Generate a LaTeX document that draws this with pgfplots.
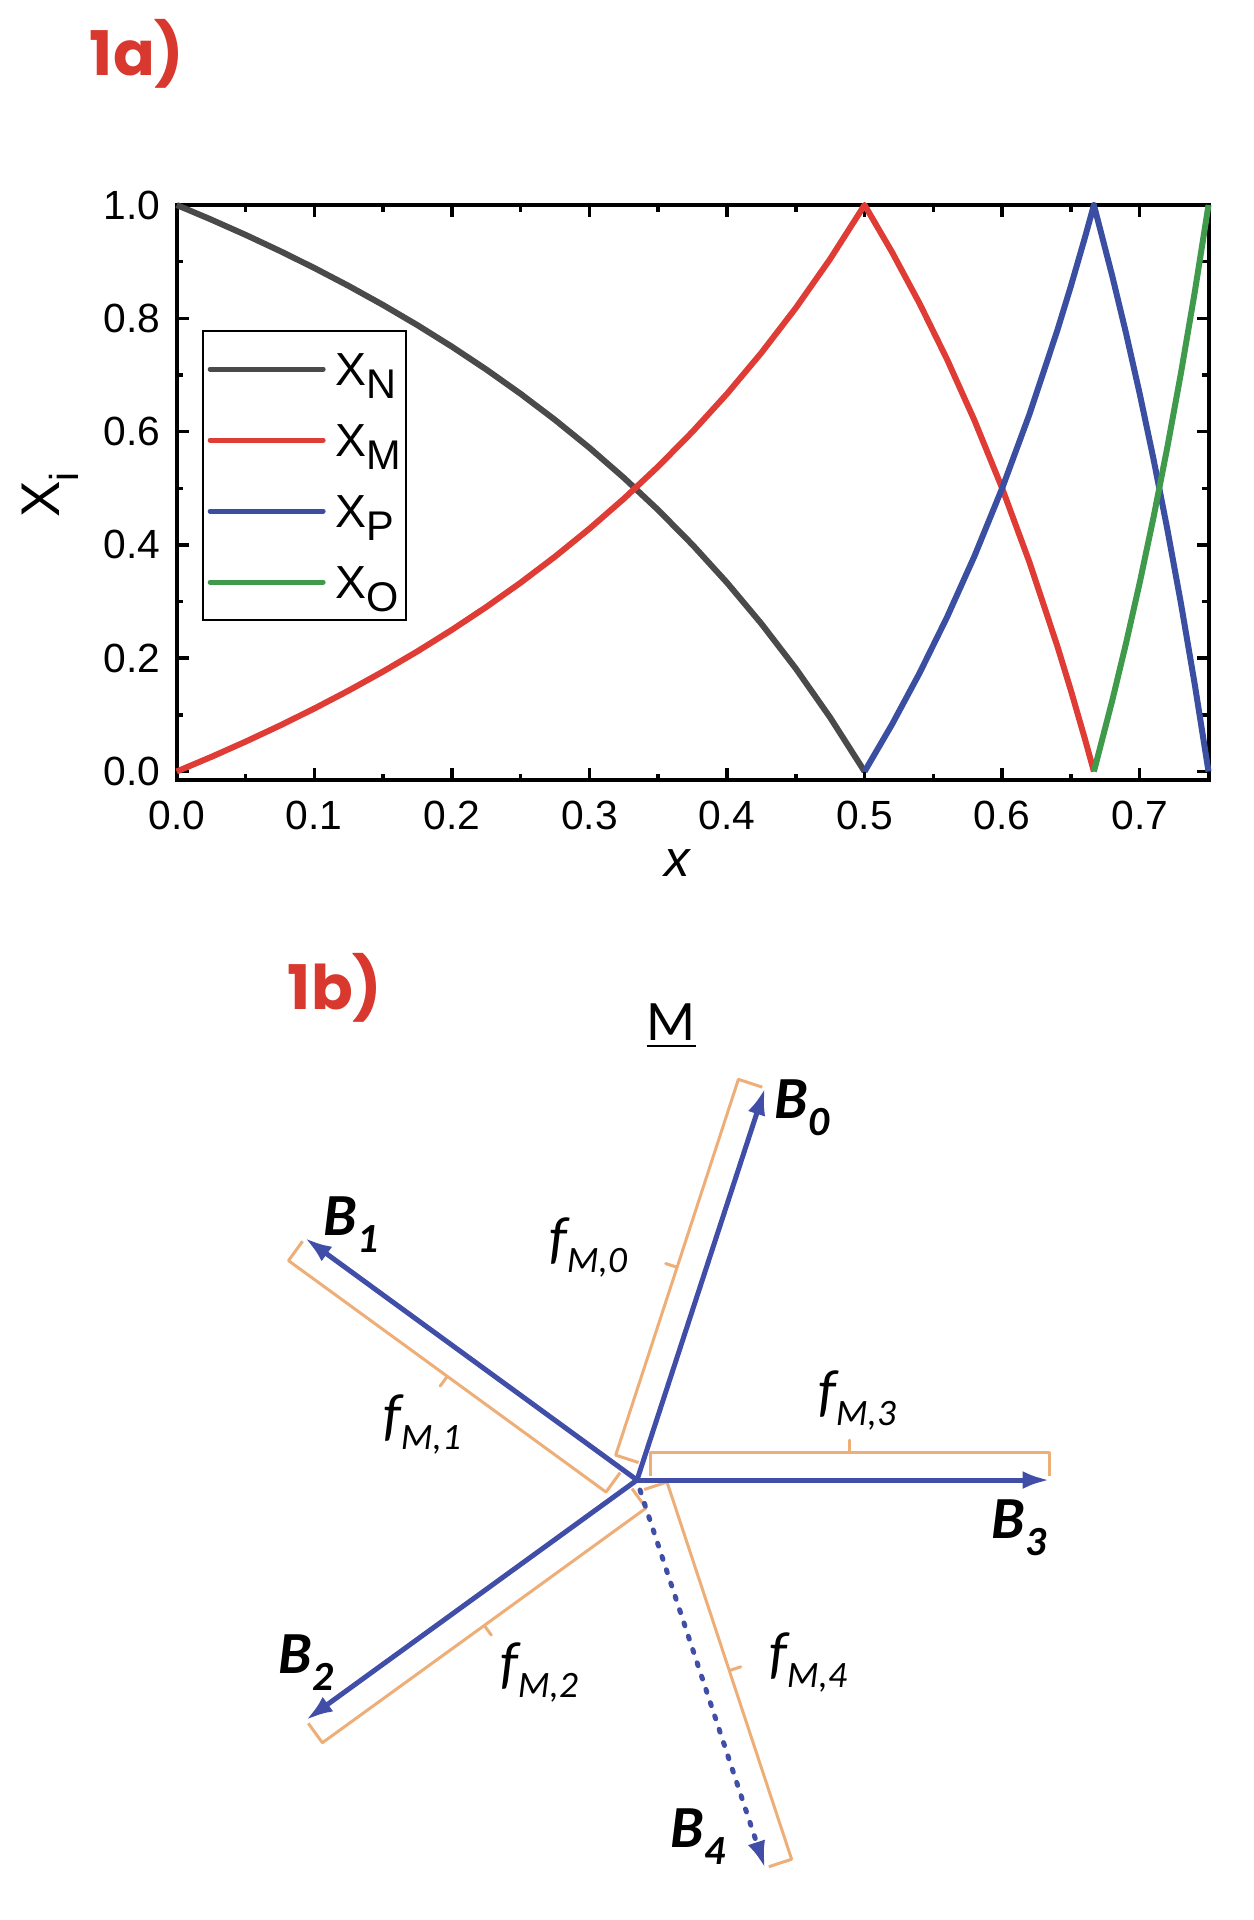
\documentclass[border=0pt]{standalone}
\usepackage{fontspec}
\setmainfont{Liberation Sans}
\newfontfamily\calfont{Carlito}
\newfontfamily\popfont{Poppins}
\usepackage{pgfplots}
\pgfplotsset{compat=1.18}
\usetikzlibrary{arrows.meta}
\definecolor{cN}{HTML}{4A4A4A}
\definecolor{cM}{HTML}{E03C36}
\definecolor{cP}{HTML}{3B4FA2}
\definecolor{cO}{HTML}{3F9B4B}
\definecolor{ttl}{HTML}{D8382E}
\definecolor{arr}{HTML}{404EA8}
\definecolor{brk}{HTML}{EEAE78}
\newcommand{\lsub}[1]{\raisebox{-1.3mm}{\fontsize{11.8}{11.8}\selectfont #1}}
\newcommand{\bsub}[1]{\raisebox{-1.7mm}{\fontsize{11.8}{11}\selectfont #1}}
\newcommand{\fsub}[1]{\raisebox{-1.5mm}{\fontsize{10.6}{10}\selectfont #1}}
\begin{document}
\begin{tikzpicture}
\path[use as bounding box] (0,0) rectangle (125.4mm,-192mm);
\begin{axis}[
  at={(17.67mm,-20.5mm)}, anchor=north west,
  scale only axis, width=103.18mm, height=57.5mm,
  xmin=0, xmax=0.75, ymin=-0.015, ymax=1,
  clip=false,
  axis line style={line width=0.4mm},
  every tick/.style={line width=0.35mm, black},
  tick align=inside,
  major tick length=1.2mm, minor tick length=0.65mm,
  xtick={0,0.1,0.2,0.3,0.4,0.5,0.6,0.7},
  minor xtick={0.05,0.15,0.25,0.35,0.45,0.55,0.65},
  ytick={0,0.2,0.4,0.6,0.8,1.0},
  minor ytick={0.1,0.3,0.5,0.7,0.9},
  xticklabel={\pgfmathprintnumber[fixed,fixed zerofill,precision=1,assume math mode=true]{\tick}},
  yticklabel={\pgfmathprintnumber[fixed,fixed zerofill,precision=1,assume math mode=true]{\tick}},
  tick label style={font=\fontsize{11.6}{13}\selectfont},
  xticklabel style={yshift=-0.9mm},
  yticklabel style={xshift=-0.4mm},
  xlabel={\itshape x},
  xlabel style={at={(axis description cs:0.485,-0.144)}, anchor=center, font=\fontsize{14.5}{14}\selectfont},
  ylabel={X\raisebox{-0.35em}{\fontsize{11.5}{11}\selectfont i}},
  ylabel style={at={(axis description cs:-0.1225,0.496)}, anchor=center, font=\fontsize{15.5}{15}\selectfont},
  legend cell align=left,
  legend style={at={(0.0242,0.7826)}, anchor=north west, draw=black, line width=0.2mm,
    font=\fontsize{13.2}{13}\selectfont, inner xsep=0.5mm, inner ysep=1.8mm,
    row sep=3.1mm, column sep=1mm,
    nodes={inner sep=0pt, text height=3.6mm, text depth=0.4mm}},
  legend image code/.code={\draw[#1, line width=0.5mm, line cap=round] (0mm,0mm) -- (11.3mm,0mm);},
]
\addplot[cN, line width=0.6mm, line join=round] coordinates {
(0,1) (0.025,0.97436) (0.05,0.94737) (0.075,0.91892) (0.1,0.88889) (0.125,0.85714) (0.15,0.82353) (0.175,0.78788) (0.2,0.75) (0.225,0.70968) (0.25,0.66667) (0.275,0.62069) (0.3,0.57143) (0.325,0.51852) (0.35,0.46154) (0.375,0.4) (0.4,0.33333) (0.425,0.26087) (0.45,0.18182) (0.475,0.09524) (0.5,0)};
\addlegendentry{X\lsub{N}}
\addplot[cM, line width=0.6mm, line join=round] coordinates {
(0,0) (0.025,0.02564) (0.05,0.05263) (0.075,0.08108) (0.1,0.11111) (0.125,0.14286) (0.15,0.17647) (0.175,0.21212) (0.2,0.25) (0.225,0.29032) (0.25,0.33333) (0.275,0.37931) (0.3,0.42857) (0.325,0.48148) (0.35,0.53846) (0.375,0.6) (0.4,0.66667) (0.425,0.73913) (0.45,0.81818) (0.475,0.90476) (0.5,1) (0.52,0.91667) (0.54,0.82609) (0.56,0.72727) (0.58,0.61905) (0.6,0.5) (0.62,0.36842) (0.64,0.22222) (0.65,0.14286) (0.66,0.05882) (0.6667,0)};
\addlegendentry{X\lsub{M}}
\addplot[cP, line width=0.6mm, line join=round] coordinates {
(0.5,0) (0.52,0.08333) (0.54,0.17391) (0.56,0.27273) (0.58,0.38095) (0.6,0.5) (0.62,0.63158) (0.64,0.77778) (0.65,0.85714) (0.66,0.94118) (0.6667,1) (0.68,0.875) (0.69,0.77419) (0.7,0.66667) (0.71,0.55172) (0.72,0.42857) (0.73,0.2963) (0.74,0.15385) (0.75,0)};
\addlegendentry{X\lsub{P}}
\addplot[cO, line width=0.6mm, line join=round] coordinates {
(0.6667,0) (0.68,0.125) (0.69,0.22581) (0.7,0.33333) (0.71,0.44828) (0.72,0.57143) (0.73,0.7037) (0.74,0.84615) (0.75,1)};
\addlegendentry{X\lsub{O}}
\end{axis}
\begin{axis}[
  at={(0mm,0mm)}, anchor=north west,
  scale only axis, width=125.4mm, height=192mm,
  xmin=0, xmax=1254, ymin=0, ymax=1920, y dir=reverse,
  hide axis, clip=false,
]
% brackets
\addplot[brk, line width=0.3mm, line join=round] coordinates {(638.5,1462.5) (615.7,1455.1) (677.1,1267.2) (665.6,1263.5) (677.1,1267.2) (738.4,1079.3) (762.2,1087.1)};
\addplot[brk, line width=0.3mm, line join=round] coordinates {(620.1,1472.6) (606,1492) (447.3,1376.3) (440.2,1386) (447.3,1376.3) (288.5,1260.6) (302.6,1241.2)};
\addplot[brk, line width=0.3mm, line join=round] coordinates {(632,1488.6) (646.1,1508) (484.3,1625.4) (491.3,1635.1) (484.3,1625.4) (322.4,1742.7) (308.3,1723.3)};
\addplot[brk, line width=0.3mm, line join=round] coordinates {(650,1476) (650,1452) (849.8,1452) (849.8,1440) (849.8,1452) (1049.5,1452) (1049.5,1476)};
\addplot[brk, line width=0.3mm, line join=round] coordinates {(644.2,1489.5) (667,1482) (729.3,1670.6) (740.7,1666.8) (729.3,1670.6) (791.6,1859.2) (768.8,1866.7)};
% arrows
\addplot[arr, line width=0.5mm, -{Latex[length=2.7mm,width=1.8mm]}] coordinates {(637,1480) (765,1088)};
\addplot[arr, line width=0.5mm, -{Latex[length=2.7mm,width=1.8mm]}] coordinates {(637,1480) (305,1238)};
\addplot[arr, line width=0.5mm, -{Latex[length=2.7mm,width=1.8mm]}] coordinates {(637,1480) (306,1720)};
\addplot[arr, line width=0.5mm, -{Latex[length=2.7mm,width=1.8mm]}] coordinates {(637,1480) (1049.5,1480)};
\addplot[arr, line width=0.5mm, line cap=round, dash pattern=on 0.3mm off 1.1mm, -{Latex[length=2.7mm,width=1.8mm]}] coordinates {(640,1490) (765,1868)};
% titles
\node[font=\popfont\bfseries\fontsize{17.5}{18}\selectfont, text=ttl] at (axis cs:137,54) {1a)};
\node[font=\popfont\bfseries\fontsize{17.5}{18}\selectfont, text=ttl] at (axis cs:335,988) {1b)};
% labels
\node[font=\calfont\fontsize{16.3}{16}\selectfont] at (axis cs:671,1026) {\underline{M}};
\node[font=\calfont\bfseries\itshape\fontsize{17}{16}\selectfont] at (axis cs:802,1108) {B\bsub{0}};
\node[font=\calfont\bfseries\itshape\fontsize{17}{16}\selectfont] at (axis cs:351,1225) {B\bsub{1}};
\node[font=\calfont\bfseries\itshape\fontsize{17}{16}\selectfont] at (axis cs:306,1663) {B\bsub{2}};
\node[font=\calfont\bfseries\itshape\fontsize{17}{16}\selectfont] at (axis cs:1019,1528) {B\bsub{3}};
\node[font=\calfont\bfseries\itshape\fontsize{17}{16}\selectfont] at (axis cs:698,1837) {B\bsub{4}};
\node[font=\calfont\itshape\fontsize{16.5}{16}\selectfont] at (axis cs:588,1247) {f\fsub{M,0}};
\node[font=\calfont\itshape\fontsize{16.5}{16}\selectfont] at (axis cs:422,1424) {f\fsub{M,1}};
\node[font=\calfont\itshape\fontsize{16.5}{16}\selectfont] at (axis cs:539,1672) {f\fsub{M,2}};
\node[font=\calfont\itshape\fontsize{16.5}{16}\selectfont] at (axis cs:857,1400) {f\fsub{M,3}};
\node[font=\calfont\itshape\fontsize{16.5}{16}\selectfont] at (axis cs:808,1662) {f\fsub{M,4}};
\end{axis}
\end{tikzpicture}
\end{document}
